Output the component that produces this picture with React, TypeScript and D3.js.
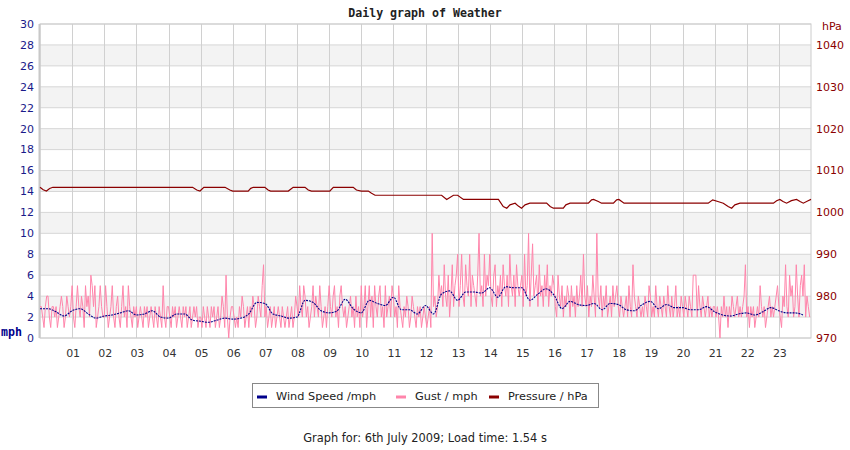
import React, { useMemo } from 'react';
import * as d3 from 'd3';

const hourLabels = ['01', '02', '03', '04', '05', '06', '07', '08', '09', '10', '11', '12',
  '13', '14', '15', '16', '17', '18', '19', '20', '21', '22', '23'];

const mphTicks = [0, 2, 4, 6, 8, 10, 12, 14, 16, 18, 20, 22, 24, 26, 28, 30];
const hpaTicks = [970, 980, 990, 1000, 1010, 1020, 1030, 1040];

// wind speed, one value per 15 minutes
const windSpeed = [
  2.8, 2.8, 2.5, 2.1, 2.6, 2.8, 2.3, 1.9, 2.1, 2.2, 2.4, 2.6,
  2.2, 2.3, 2.6, 2.0, 1.9, 2.3, 2.3, 1.7, 1.6, 1.5, 1.7, 1.9,
  1.8, 1.9, 2.3, 3.4, 3.3, 2.3, 2.1, 1.9, 2.0, 3.6, 3.4, 2.6,
  2.4, 2.6, 3.7, 2.8, 2.4, 3.6, 3.3, 3.1, 3.9, 2.7, 2.7, 2.3,
  3.1, 2.3, 4.2, 4.5, 3.6, 4.4, 4.4, 4.3, 4.8, 3.9, 4.9, 4.8,
  4.8, 3.6, 4.2, 4.7, 4.1, 2.8, 3.5, 3.2, 3.1, 3.3, 2.7, 3.3,
  3.2, 2.7, 2.6, 3.2, 3.5, 2.8, 3.2, 2.9, 2.9, 2.7, 2.7, 3.0,
  2.5, 2.2, 2.1, 2.3, 2.4, 2.2, 2.5, 2.9, 2.6, 2.4, 2.4, 2.2,
];

// gusts, one value per 2.5 minutes (one row per hour)
const gust = [
  3, 3, 2, 1, 3, 4, 4, 2, 1, 3, 3, 2, 3, 1, 2, 3, 4, 3, 1, 2, 4, 3, 2, 3,
  5, 2, 1, 3, 5, 3, 2, 4, 3, 1, 5, 3, 4, 2, 6, 5, 3, 5, 1, 2, 3, 5, 3, 2,
  2, 5, 3, 1, 2, 3, 5, 2, 1, 3, 4, 2, 1, 3, 5, 2, 3, 1, 5, 3, 2, 1, 3, 2,
  3, 1, 2, 3, 2, 1, 3, 2, 3, 1, 2, 3, 2, 1, 3, 2, 1, 3, 2, 1, 5, 2, 1, 3,
  3, 2, 1, 3, 2, 3, 1, 2, 3, 2, 1, 3, 2, 3, 1, 2, 3, 1, 2, 3, 2, 3, 1, 2,
  2, 1, 3, 2, 1, 3, 2, 1, 3, 2, 3, 1, 2, 3, 1, 2, 4, 3, 1, 6, 2, 0, 2, 3,
  3, 2, 1, 2, 1, 3, 2, 4, 3, 1, 2, 3, 1, 3, 2, 4, 3, 1, 2, 4, 3, 2, 5, 7,
  2, 3, 1, 2, 3, 1, 2, 3, 1, 2, 3, 2, 1, 3, 2, 1, 2, 3, 1, 2, 3, 1, 2, 4,
  3, 2, 5, 3, 2, 5, 4, 2, 3, 1, 2, 3, 5, 2, 4, 3, 2, 5, 3, 1, 2, 3, 1, 3,
  5, 3, 2, 4, 5, 2, 3, 1, 4, 5, 3, 2, 3, 1, 2, 3, 4, 2, 3, 1, 4, 2, 3, 1,
  5, 2, 3, 5, 1, 3, 5, 2, 4, 1, 5, 3, 2, 4, 5, 2, 3, 1, 5, 2, 3, 4, 2, 5,
  4, 2, 3, 1, 5, 3, 2, 1, 3, 2, 4, 3, 1, 2, 4, 3, 2, 1, 3, 2, 3, 1, 2, 3,
  2, 1, 2, 3, 1, 10, 3, 4, 2, 3, 6, 4, 5, 3, 7, 4, 3, 6, 2, 4, 7, 3, 5, 6,
  8, 3, 5, 8, 4, 3, 7, 5, 4, 8, 3, 6, 5, 4, 3, 6, 10, 4, 5, 3, 8, 4, 6, 5,
  8, 4, 3, 6, 7, 3, 5, 4, 6, 3, 7, 5, 4, 6, 3, 8, 5, 4, 6, 3, 7, 5, 4, 5,
  6, 3, 8, 4, 5, 10, 3, 6, 9, 4, 5, 6, 3, 7, 4, 5, 3, 6, 4, 7, 3, 5, 4, 6,
  5, 3, 2, 6, 4, 3, 5, 2, 4, 3, 5, 4, 2, 5, 3, 4, 2, 5, 3, 4, 6, 3, 8, 4,
  3, 5, 2, 4, 3, 6, 4, 2, 10, 4, 3, 5, 2, 4, 3, 5, 2, 3, 4, 2, 5, 3, 4, 5,
  3, 2, 4, 3, 2, 3, 4, 2, 5, 3, 2, 7, 4, 3, 2, 4, 3, 2, 3, 2, 4, 3, 2, 5,
  4, 2, 3, 2, 5, 3, 2, 4, 3, 2, 4, 3, 2, 5, 3, 2, 4, 2, 3, 5, 2, 3, 2, 4,
  3, 2, 4, 3, 2, 4, 3, 2, 6, 6, 6, 2, 5, 3, 2, 4, 3, 2, 3, 4, 2, 3, 2, 3,
  3, 2, 3, 2, 0, 3, 2, 4, 2, 3, 1, 3, 2, 4, 3, 2, 3, 4, 2, 3, 2, 3, 4, 7,
  2, 3, 1, 3, 2, 3, 1, 2, 3, 2, 5, 3, 2, 3, 1, 2, 3, 4, 2, 3, 2, 3, 4, 5,
  3, 2, 1, 4, 3, 7, 3, 2, 6, 4, 5, 2, 3, 7, 4, 2, 5, 6, 4, 7, 2, 4, 3, 2,
];

const pressureHours = [
  0, 0.1, 0.2, 0.3, 0.4, 4.75, 4.88, 4.98, 5.1, 5.76, 5.91, 6.0, 6.48, 6.56, 6.64,
  7.0, 7.1, 7.18, 7.73, 7.88, 8.25, 8.35, 8.45, 9.02, 9.13, 9.75, 9.85, 10.0, 10.22,
  10.32, 10.43, 12.5, 12.66, 12.87, 13.0, 13.18, 14.27, 14.42, 14.53, 14.63, 14.79,
  14.89, 14.99, 15.1, 15.25, 15.77, 15.88, 15.98, 16.29, 16.37, 16.5, 17.07, 17.17,
  17.23, 17.38, 17.48, 17.85, 17.95, 18.02, 18.18, 20.8, 20.94, 21.1, 21.27, 21.42,
  21.53, 21.63, 21.79, 22.83, 22.93, 23.03, 23.13, 23.24, 23.39, 23.55, 23.66, 23.76,
  23.91, 24.0,
];
const pressureValues = [
  1006.0, 1005.4, 1005.1, 1005.7, 1006.0, 1006.0, 1005.35, 1005.1, 1006.0, 1006.0,
  1005.35, 1005.1, 1005.1, 1005.75, 1006.0, 1006.0, 1005.35, 1005.1, 1005.1, 1006.0,
  1006.0, 1005.35, 1005.1, 1005.1, 1006.0, 1006.0, 1005.35, 1005.1, 1005.1, 1004.56,
  1004.1, 1004.1, 1003.1, 1004.1, 1004.1, 1003.1, 1003.1, 1001.4, 1001.0, 1001.8,
  1002.2, 1001.5, 1001.0, 1001.8, 1002.2, 1002.2, 1001.4, 1001.0, 1001.0, 1001.8,
  1002.2, 1002.2, 1003.0, 1003.1, 1002.6, 1002.2, 1002.2, 1003.0, 1003.1, 1002.2,
  1002.2, 1003.0, 1002.6, 1002.2, 1001.4, 1001.0, 1001.8, 1002.2, 1002.2, 1002.8,
  1003.1, 1002.6, 1002.2, 1002.8, 1003.1, 1002.6, 1002.2, 1002.8, 1003.1,
];

const WIND_COLOR = '#00008b';
const GUST_COLOR = '#ff85ab';
const PRESSURE_COLOR = '#8b0000';
const FONT = 'DejaVu Sans, sans-serif';
const MONO = 'DejaVu Sans Mono, monospace';

export default function App() {
  const width = 850;
  const height = 450;
  const MARGIN = { top: 24, right: 39, bottom: 112, left: 40 };
  const boundsWidth = width - MARGIN.left - MARGIN.right;
  const boundsHeight = height - MARGIN.top - MARGIN.bottom;

  const xScale = useMemo(() => d3.scaleLinear().domain([0, 24]).range([0, boundsWidth]), [boundsWidth]);
  const yScale = useMemo(() => d3.scaleLinear().domain([0, 30]).range([boundsHeight, 0]), [boundsHeight]);
  const pScale = useMemo(() => d3.scaleLinear().domain([970, 1045]).range([boundsHeight, 0]), [boundsHeight]);

  const gustPath = d3
    .line<number>()
    .x((_, i) => xScale(i / 24))
    .y((d) => yScale(d))(gust);

  const windPath = d3
    .line<number>()
    .x((_, i) => xScale(i / 4))
    .y((d) => yScale(d))
    .curve(d3.curveMonotoneX)(windSpeed);

  const pressurePath = d3
    .line<number>()
    .x((_, i) => xScale(pressureHours[i]))
    .y((d) => pScale(d))(pressureValues);

  const bands = mphTicks.filter((t) => t % 4 === 2 && t < 30).map((t) => (
    <rect
      key={'b' + t}
      x={0}
      y={yScale(t + 2)}
      width={boundsWidth}
      height={yScale(t) - yScale(t + 2)}
      fill="#f3f3f3"
    />
  ));

  const hGrid = mphTicks.map((t) => (
    <line key={'h' + t} x1={0} x2={boundsWidth} y1={yScale(t)} y2={yScale(t)} stroke="#d6d6d6" />
  ));

  const vGrid = hourLabels.map((label, i) => (
    <g key={'v' + label}>
      <line
        x1={Math.round(xScale(i + 1)) + 0.5}
        x2={Math.round(xScale(i + 1)) + 0.5}
        y1={0}
        y2={boundsHeight}
        stroke="#d0d0d0"
      />
      <text
        x={xScale(i + 1) + 1}
        y={boundsHeight + 19}
        textAnchor="middle"
        fontSize={11}
        fill="#333"
        fontFamily={FONT}
      >
        {label}
      </text>
    </g>
  ));

  const leftTicks = mphTicks.map((t) => (
    <text
      key={'l' + t}
      x={-6}
      y={yScale(t)}
      dy="0.35em"
      textAnchor="end"
      fontSize={11}
      fill="#1a1a8a"
      fontFamily={FONT}
    >
      {t}
    </text>
  ));

  const rightTicks = hpaTicks.map((t) => (
    <text
      key={'r' + t}
      x={boundsWidth + 5}
      y={pScale(t)}
      dy="0.35em"
      textAnchor="start"
      fontSize={11}
      fill="#8b0000"
      fontFamily={FONT}
    >
      {t}
    </text>
  ));

  const legendItems = [
    { label: 'Wind Speed /mph', color: WIND_COLOR, x: 257 },
    { label: 'Gust / mph', color: GUST_COLOR, x: 396 },
    { label: 'Pressure / hPa', color: PRESSURE_COLOR, x: 489 },
  ];

  return (
    <svg
      width={width}
      height={height}
      style={{ position: 'absolute', left: 0, top: 0, background: '#fff' }}
    >
      <text
        x={425}
        y={17}
        textAnchor="middle"
        fontSize={11.6}
        fontWeight="bold"
        fill="#222"
        fontFamily={MONO}
      >
        Daily graph of Weather
      </text>
      <g transform={`translate(${[MARGIN.left, MARGIN.top].join(',')})`}>
        {bands}
        {hGrid}
        {vGrid}
        <rect x={0} y={0} width={boundsWidth} height={boundsHeight} fill="none" stroke="#cccccc" />
        <line x1={-0.5} x2={-0.5} y1={0} y2={boundsHeight} stroke="#c8c8c8" strokeWidth={2} />
        <path d={pressurePath ?? ''} fill="none" stroke={PRESSURE_COLOR} strokeWidth={1.2} />
        <path d={gustPath ?? ''} fill="none" stroke={GUST_COLOR} strokeWidth={1} />
        <path
          d={windPath ?? ''}
          fill="none"
          stroke={WIND_COLOR}
          strokeWidth={1.1}
          strokeDasharray="2,1"
        />
        {leftTicks}
        {rightTicks}
        <text
          x={-18}
          y={boundsHeight - 2}
          textAnchor="end"
          fontSize={11.6}
          fontWeight="bold"
          fill="#00008b"
          fontFamily={MONO}
        >
          mph
        </text>
        <text
          x={boundsWidth + 11}
          y={6}
          textAnchor="start"
          fontSize={11}
          fill="#8b0000"
          fontFamily={FONT}
        >
          hPa
        </text>
      </g>
      <rect x={252.5} y={383.5} width={346} height={24} fill="#fff" stroke="#888" />
      {legendItems.map((d) => (
        <g key={d.label}>
          <line x1={d.x} x2={d.x + 10} y1={397} y2={397} stroke={d.color} strokeWidth={3} />
          <text x={d.x + 19} y={400} fontSize={11.3} fill="#222" fontFamily={FONT}>
            {d.label}
          </text>
        </g>
      ))}
      <text x={425} y={442} textAnchor="middle" fontSize={11.4} fill="#222" fontFamily={FONT}>
        Graph for: 6th July 2009; Load time: 1.54 s
      </text>
    </svg>
  );
}
